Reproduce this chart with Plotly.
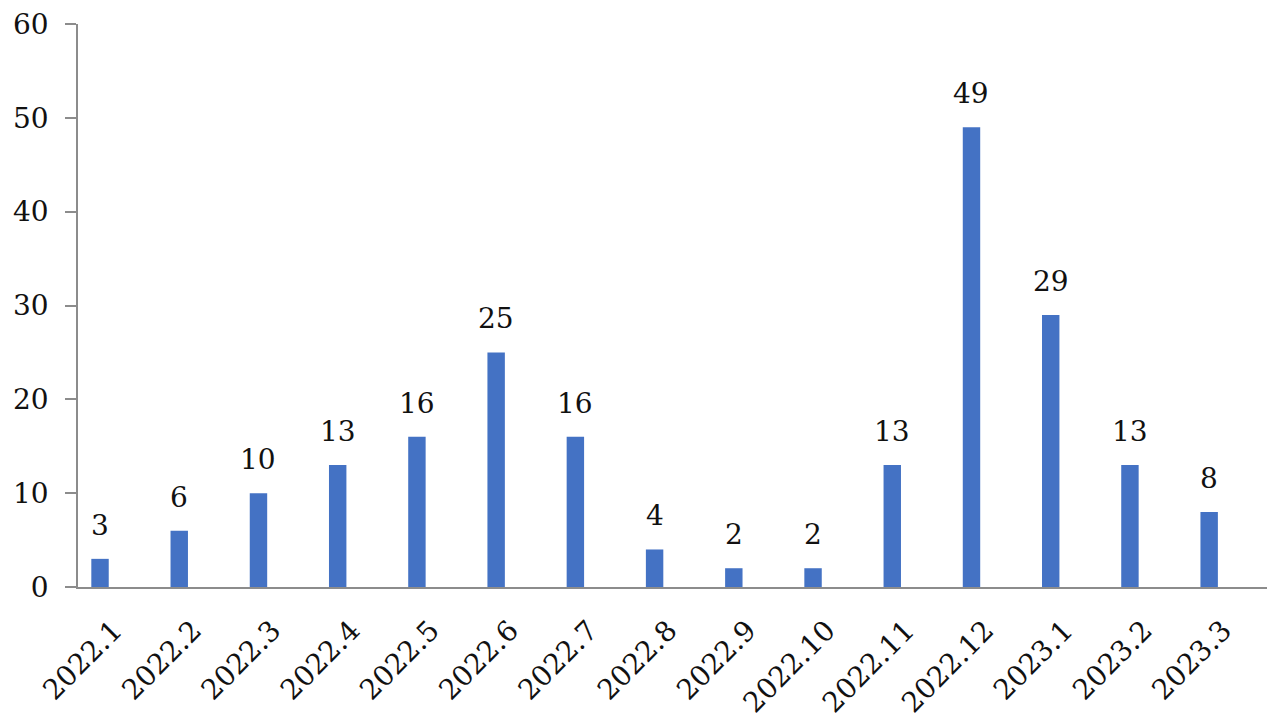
import plotly.graph_objects as go

categories = ["2022.1", "2022.2", "2022.3", "2022.4", "2022.5", "2022.6", "2022.7",
              "2022.8", "2022.9", "2022.10", "2022.11", "2022.12", "2023.1", "2023.2", "2023.3"]
values = [3, 6, 10, 13, 16, 25, 16, 4, 2, 2, 13, 49, 29, 13, 8]
y_ticks = [0, 10, 20, 30, 40, 50, 60]

FONT = "DejaVu Serif"
fig = go.Figure()
fig.add_trace(go.Bar(
    x=list(range(len(categories))), y=values,
    marker=dict(color="#4472C4", line=dict(width=0)),
    width=0.22,
))
for i, v in enumerate(values):
    fig.add_annotation(x=i, y=v, text=str(v), showarrow=False, yanchor="bottom",
                       yshift=15, font=dict(family=FONT, size=28, color="#111"))

fig.update_layout(
    width=1280, height=720,
    margin=dict(l=70, r=21, t=16, b=141),
    plot_bgcolor="white", paper_bgcolor="white",
    showlegend=False,
    font=dict(family=FONT, size=28, color="#111"),
)
fig.update_xaxes(
    tickmode="array", tickvals=list(range(len(categories))), ticktext=categories,
    range=[-0.278, 14.73], tickangle=-45, showgrid=False, zeroline=False,
    showline=True, linecolor="#8c8c8c", linewidth=1.5, ticks="",
    tickfont=dict(family=FONT, size=28, color="#111"), ticklabelshift=14,
    ticklabelstandoff=14, automargin=False, ticklabeloverflow="allow",
)
fig.update_yaxes(
    range=[0, 60], tickmode="array", tickvals=y_ticks, showgrid=False, zeroline=False,
    showline=True, linecolor="#8c8c8c", linewidth=1.5, ticks="outside", ticklen=11,
    tickcolor="#8c8c8c", tickwidth=1.5, ticklabelstandoff=11,
    tickfont=dict(family=FONT, size=28, color="#111"),
    automargin=False, ticklabeloverflow="allow",
)
fig.write_html("out.html")
